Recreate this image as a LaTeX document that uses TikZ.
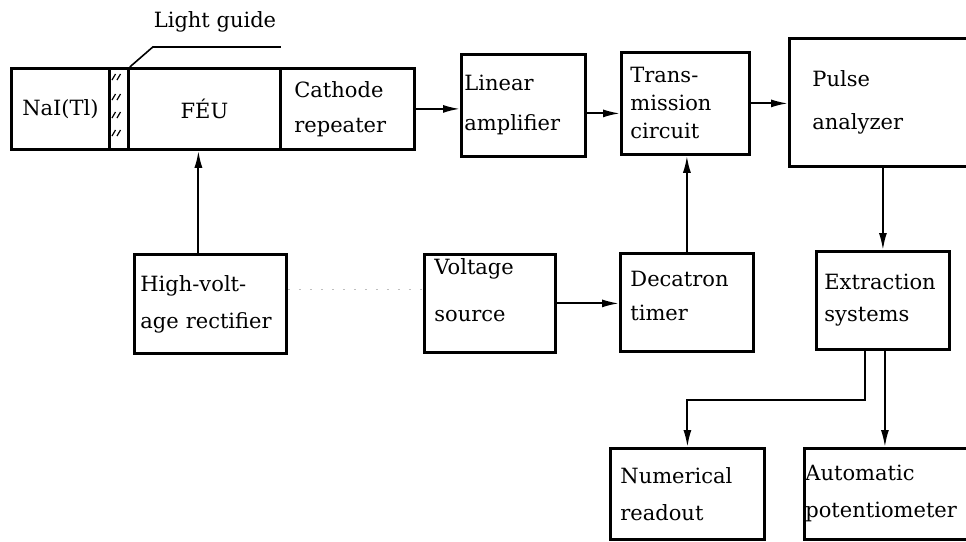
\documentclass[tikz,border=0pt]{standalone}
\usepackage{fontspec}
\setmainfont{DejaVu Serif}
\usetikzlibrary{arrows.meta}
\tikzset{
  blk/.style={draw, line width=2.8pt, anchor=north west, align=left, inner ysep=0pt},
  ls/.style={font=\fontsize{21}{#1}\selectfont},
  arr/.style={line width=1.9pt, -{Latex[length=17pt,width=8pt]}},
  thin line/.style={line width=1.6pt},
}
\begin{document}
\begin{tikzpicture}[x=1pt,y=-1pt]
\useasboundingbox (0,0) rectangle (966,541);
\clip (0,0) rectangle (966,541);
% detector assembly
\node[blk, ls=30, align=center, minimum width=98, minimum height=81, text width=98, inner xsep=0] (nai) at (10,67) {NaI(Tl)};
\node[blk, minimum width=19, minimum height=81, inner xsep=0] (lg) at (108,67) {};
\node[blk, ls=30, align=center, minimum width=152, minimum height=81, text width=140, inner xsep=6] (feu) at (127,67) {FÉU};
\node[blk, ls=35, minimum width=134, minimum height=81, text width=106, inner xsep=14] (cath) at (279,67) {Cathode\\repeater};
% hatch marks of light guide
\foreach \hy in {77,97,115,133}{
  \draw[line width=1.2pt] (112,\hy+3) -- (115.5,\hy-3);
  \draw[line width=1.2pt] (117,\hy+3) -- (120.5,\hy-3);
}
% light guide label
\draw[thin line] (lg.north east) -- ++(23,-20) -- ++(128,0);
\node[ls=30, anchor=base, inner sep=0] (lgl) at (215,27) {Light guide};
% other blocks
\node[blk, ls=40, minimum width=124, minimum height=102, text width=118, inner xsep=3] (lin) at (460,53) {Linear\\amplifier};
\node[blk, ls=28, minimum width=128, minimum height=102, text width=110, inner xsep=9] (trans) at (620,51) {Trans-\\mission\\circuit};
\node[blk, ls=43, minimum width=197, minimum height=128, text width=151, inner xsep=23] (pulse) at (788,37) {Pulse\\analyzer};
\node[blk, ls=37, minimum width=152, minimum height=99, text width=140, inner xsep=6] (hv) at (133,253) {High-volt-\\age rectifier};
\node[blk, ls=47, text depth=73pt, minimum width=131, minimum height=98, text width=111, inner xsep=10] (volt) at (423,253) {Voltage\\source};
\node[blk, ls=34, text depth=48pt, minimum width=133, minimum height=98, text width=113, inner xsep=10] (dec) at (619,252) {Decatron\\timer};
\node[blk, ls=32, minimum width=133, minimum height=98, text width=117, inner xsep=8] (ext) at (815,250) {Extraction\\systems};
\node[blk, ls=37, minimum width=154, minimum height=91, text width=134, inner xsep=10] (num) at (609,447) {Numerical\\readout};
\node[blk, ls=37, minimum width=182, minimum height=91, text width=180, inner xsep=1] (autop) at (803,447) {Automatic\\potentiometer};
% connectors
\draw[arr] (cath.east) -- (cath.east -| lin.west);
\coordinate (a1) at ([yshift=-8pt]lin.east);
\draw[arr] (a1) -- (a1 -| trans.west);
\draw[arr] (trans.east) -- (trans.east -| pulse.west);
\coordinate (h1) at ([xshift=-12pt]hv.north);
\draw[arr] (h1) -- (h1 |- feu.south);
\draw[arr] (dec.north) -- (dec.north |- trans.south);
\draw[arr] (volt.east) -- (volt.east -| dec.west);
\draw[arr] (ext.north |- pulse.south) -- (ext.north);
\coordinate (e1) at ([xshift=-18pt]ext.south);
\draw[arr] (e1) -- ++(0,49) -| (num.north);
\coordinate (e2) at ([xshift=2pt]ext.south);
\draw[arr] (e2) -- (e2 |- autop.north);
% faint trace between rectifier and voltage source
\coordinate (d1) at ([yshift=14pt]hv.east);
\draw[gray!50, line width=1pt, dash pattern=on 2pt off 9pt] (d1) -- (d1 -| volt.west);
\end{tikzpicture}
\end{document}
